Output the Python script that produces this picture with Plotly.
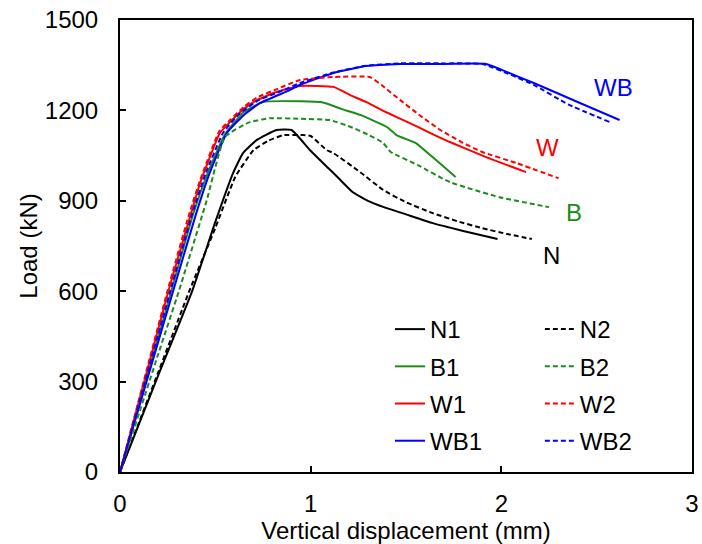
import plotly.graph_objects as go

# ---- data ----
N1_x = [0, 0.2, 0.38, 0.5, 0.593, 0.645, 0.718, 0.82, 0.90, 0.997, 1.14, 1.22, 1.30, 1.38, 1.50, 1.64, 1.80, 1.98]
N1_y = [0, 320, 603, 830, 992, 1058, 1102, 1135, 1135, 1068, 979, 929, 900, 880, 855, 826, 800, 773]

N2_x = [0, 0.2, 0.365, 0.50, 0.605, 0.70, 0.78, 0.855, 0.96, 1.0, 1.085, 1.12, 1.26, 1.38, 1.50, 1.64, 1.77, 1.90, 2.03, 2.16]
N2_y = [0, 330, 603, 810, 980, 1068, 1100, 1118, 1118, 1115, 1068, 1058, 995, 936, 895, 859, 832, 809, 790, 773]

B1_x = [0, 0.2, 0.27, 0.385, 0.46, 0.55, 0.65, 0.75, 0.95, 1.065, 1.16, 1.26, 1.40, 1.45, 1.55, 1.63, 1.70, 1.76]
B1_y = [0, 445, 603, 859, 992, 1120, 1195, 1228, 1230, 1226, 1205, 1185, 1145, 1118, 1092, 1050, 1012, 979]

B2_x = [0, 0.2, 0.31, 0.455, 0.55, 0.68, 0.787, 0.95, 1.10, 1.21, 1.30, 1.38, 1.42, 1.56, 1.73, 1.99, 2.25]
B2_y = [0, 390, 603, 902, 1112, 1161, 1174, 1172, 1168, 1145, 1120, 1092, 1062, 1019, 962, 912, 879]

W1_x = [0, 0.255, 0.367, 0.42, 0.524, 0.577, 0.65, 0.718, 0.82, 0.944, 1.12, 1.20, 1.29, 1.40, 1.52, 1.62, 1.73, 1.92, 2.13]
W1_y = [0, 603, 846, 958, 1125, 1161, 1205, 1234, 1261, 1281, 1278, 1253, 1228, 1193, 1158, 1127, 1095, 1045, 995]

W2_x = [0, 0.25, 0.36, 0.42, 0.52, 0.58, 0.65, 0.72, 0.82, 0.944, 1.12, 1.31, 1.38, 1.47, 1.58, 1.68, 1.79, 1.90, 2.08, 2.30]
W2_y = [0, 603, 850, 968, 1130, 1170, 1212, 1243, 1270, 1301, 1311, 1311, 1280, 1234, 1180, 1135, 1095, 1062, 1025, 975]

WB1_x = [0, 0.28, 0.40, 0.47, 0.56, 0.65, 0.734, 0.89, 0.944, 1.12, 1.29, 1.47, 1.70, 1.92, 2.05, 2.17, 2.40, 2.62]
WB1_y = [0, 603, 859, 992, 1125, 1185, 1224, 1267, 1285, 1324, 1347, 1354, 1354, 1354, 1322, 1291, 1228, 1168]

WB2_x = [0, 0.265, 0.38, 0.45, 0.54, 0.62, 0.72, 0.85, 0.944, 1.12, 1.29, 1.47, 1.70, 1.90, 2.05, 2.17, 2.35, 2.57]
WB2_y = [0, 603, 859, 992, 1125, 1185, 1232, 1265, 1291, 1326, 1348, 1356, 1356, 1354, 1318, 1285, 1220, 1161]

group_labels = ["WB", "W", "B", "N"]
group_label_x = [2.586, 2.24, 2.38, 2.265]
group_label_y = [1277, 1078, 862, 720]

x_ticks = [0, 1, 2, 3]
y_ticks = [0, 300, 600, 900, 1200, 1500]

BLACK = "#000000"
GREEN = "#1a8c1a"
RED = "#ff0000"
BLUE = "#0000ff"
FONT = "Arial, Liberation Sans, sans-serif"
FS = 24
DASH = "5px,3px"

series = [
    ("N1", N1_x, N1_y, BLACK, "solid", "legend"),
    ("B1", B1_x, B1_y, GREEN, "solid", "legend"),
    ("W1", W1_x, W1_y, RED, "solid", "legend"),
    ("WB1", WB1_x, WB1_y, BLUE, "solid", "legend"),
    ("N2", N2_x, N2_y, BLACK, DASH, "legend2"),
    ("B2", B2_x, B2_y, GREEN, DASH, "legend2"),
    ("W2", W2_x, W2_y, RED, DASH, "legend2"),
    ("WB2", WB2_x, WB2_y, BLUE, DASH, "legend2"),
]

fig = go.Figure()
for name, xs, ys, col, dash, leg in series:
    fig.add_trace(go.Scatter(
        x=xs, y=ys, mode="lines", name=name, legend=leg, legendgroup=name,
        line=dict(color=col, width=2, dash=dash, shape="spline", smoothing=0.4),
    ))

label_colors = [BLUE, RED, GREEN, BLACK]
for t, lx, ly, c in zip(group_labels, group_label_x, group_label_y, label_colors):
    fig.add_annotation(x=lx, y=ly, text=t, showarrow=False,
                       font=dict(family=FONT, size=FS, color=c))

axis_common = dict(
    showline=True, linewidth=2, linecolor="black", mirror=True,
    ticks="inside", ticklen=6, tickwidth=1.5, tickcolor="black",
    showgrid=False, zeroline=False, automargin=False,
    ticklabeloverflow="allow",
    tickfont=dict(family=FONT, size=FS, color="black"),
)

fig.update_layout(
    width=702, height=544,
    margin=dict(l=120, r=10, t=20, b=72),
    paper_bgcolor="white", plot_bgcolor="white",
    font=dict(family=FONT, size=FS, color="black"),
    xaxis=dict(range=[0, 3], tickvals=x_ticks, ticklabelstandoff=9,
               title=dict(text="Vertical displacement (mm)", standoff=0,
                          font=dict(family=FONT, size=FS)),
               **axis_common),
    yaxis=dict(range=[0, 1500], tickvals=y_ticks, ticklabelstandoff=15,
               title=dict(text="Load (kN)", standoff=0,
                          font=dict(family=FONT, size=FS)),
               **axis_common),
    legend=dict(x=0.472, y=0.365, xanchor="left", yanchor="top",
                bgcolor="rgba(0,0,0,0)", tracegroupgap=3,
                font=dict(family=FONT, size=FS)),
    legend2=dict(x=0.734, y=0.365, xanchor="left", yanchor="top",
                 bgcolor="rgba(0,0,0,0)", tracegroupgap=3,
                 font=dict(family=FONT, size=FS)),
)

# the page's default 8px body margin would shift the figure; remove it
fig.write_html("out.html", config={"displayModeBar": False},
               post_script="document.body.style.margin='0';")
